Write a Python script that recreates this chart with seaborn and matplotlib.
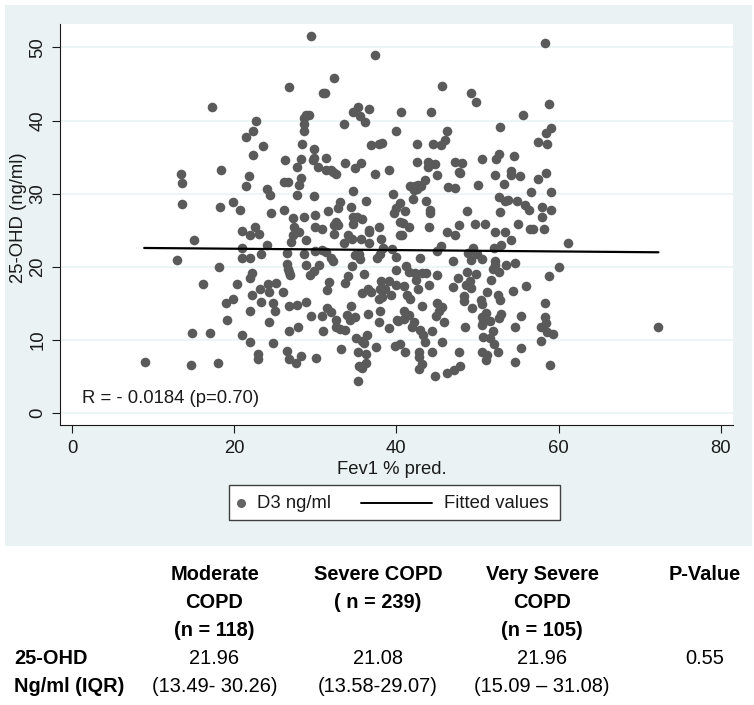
import matplotlib
matplotlib.use("Agg")
import matplotlib.pyplot as plt
from matplotlib.patches import Rectangle
from matplotlib.lines import Line2D
import numpy as np
import pandas as pd
import seaborn as sns

# values
fev1 = [
    29.5, 37.4, 32.3, 26.8, 30.9, 31.2, 17.3, 35.3, 36.6, 34.6, 35.5, 36.1, 33.5, 28.8, 29.2, 28.6, 28.6, 28.6,
    22.7, 22.3, 21.4, 23.6, 22.3, 28.3, 29.8, 39.9, 40.6, 36.9, 37.8, 38.2, 26.3, 28.2, 29.8, 29.7, 31.3, 27.7,
    30.3, 31.3, 31.9, 32.2, 32.6, 33.6, 34.9, 35.6, 37.4, 39.1, 13.4, 13.6, 13.6, 18.4, 21.8, 21.5, 28.2, 28.0,
    26.1, 26.6, 24.0, 24.4, 27.8, 29.8, 34.6, 39.6, 36.3, 19.8, 18.2, 20.7, 24.5, 26.2, 33.0, 32.8, 34.4, 31.6,
    30.0, 28.6, 27.3, 34.7, 35.1, 35.8, 39.7, 40.0, 40.4, 40.5, 37.9, 36.6, 32.6, 32.3, 32.8, 34.6, 29.9, 30.8,
    27.4, 22.6, 21.0,
    15.1, 12.9, 18.1, 16.2, 21.9, 23.1, 24.0, 20.9, 20.9, 22.0, 23.3, 27.0, 27.3, 28.0, 28.9, 26.5, 28.6, 30.0,
    30.8, 31.3, 31.9, 32.2, 26.5, 26.6, 26.8, 26.9, 28.9, 30.4, 29.8, 29.4, 22.2, 21.9, 20.3, 24.2, 25.1, 24.3,
    23.2, 22.2, 26.0, 19.9, 19.0, 23.3, 24.8, 25.0, 22.0, 26.8, 27.7, 28.9, 19.1, 24.3, 29.5, 30.8, 31.5, 31.9,
    26.7, 27.9, 30.9, 32.6, 32.6, 33.0, 33.6, 14.8, 17.0, 20.9, 21.9, 24.8, 9.0, 14.7, 18.0, 22.9, 22.9, 26.5,
    26.8, 27.6, 28.2, 30.1, 33.2, 35.0, 35.7, 36.4, 36.0, 37.5, 35.3, 36.2, 35.4, 35.7, 36.3, 35.3, 39.8, 40.4,
    34.4, 33.9, 34.3, 34.9, 36.5, 37.9, 39.1, 38.0, 40.1, 35.7, 36.5, 36.9, 38.0, 37.8, 38.2, 38.1, 39.1, 38.6,
    39.3, 40.0, 31.4, 31.7, 33.7, 34.0, 36.0, 34.5, 34.9, 35.4, 35.5, 37.6, 38.0, 38.3, 39.4, 39.9, 40.0, 33.5,
    34.5, 35.6, 36.6, 34.0, 36.6, 38.1, 32.3, 40.4,
    58.3, 45.6, 49.2, 49.8, 58.8, 44.3, 55.6, 52.8, 59.1, 58.5, 46.2, 46.0, 45.5, 44.5, 42.5, 57.5, 58.6, 42.5,
    43.9, 44.1, 43.9, 44.7, 45.0, 47.2, 48.1, 47.7, 47.9, 50.6, 52.7, 52.3, 54.5, 52.2, 54.1, 54.1, 55.2, 53.3,
    50.1, 46.3, 47.2, 43.5, 41.7, 42.3, 42.6, 43.0, 42.2, 42.5, 42.0, 43.7, 41.1, 44.1, 44.1, 48.7, 57.4, 58.5,
    59.1, 56.6, 52.7, 53.4, 53.7, 54.9, 55.8, 56.3, 52.8, 57.9, 59.1, 58.0, 40.8, 41.6, 44.0, 47.7, 49.7, 50.9,
    55.0, 52.2, 53.4, 56.5, 56.9, 58.2,
    61.2, 60.1, 58.8, 40.7, 46.2, 47.2, 54.1, 52.9, 52.0, 45.5, 45.0, 49.4, 48.8, 49.9, 42.9, 47.0, 49.2, 50.6,
    52.2, 52.2, 51.9, 52.7, 53.5, 54.6, 41.2, 41.5, 42.3, 43.1, 43.7, 42.4, 42.7, 45.0, 44.0, 48.7, 49.8, 47.6,
    47.0, 49.1, 48.6, 49.2, 51.7, 56.0, 54.4, 51.2, 52.5, 52.8, 40.9, 41.3, 41.7, 43.1, 45.0, 45.6, 45.2, 44.9,
    45.9, 48.3, 48.3, 49.3, 50.4, 50.6, 51.1, 50.5, 50.7, 51.5, 50.5, 52.9, 52.6, 55.3, 48.4, 54.6, 58.3, 58.3,
    58.4, 57.8, 58.6, 59.3, 57.8, 55.4, 54.6, 58.9, 72.2, 51.9, 50.7, 51.5, 52.0, 52.5, 50.5, 51.2, 51.0, 47.7,
    45.6, 44.4, 44.4, 42.9, 43.3, 43.5, 40.9, 41.5, 40.9, 40.2, 42.2, 41.9, 41.0, 42.8, 42.8, 43.2, 42.8, 44.7,
    46.2, 47.1, 47.8,
]
ohd = [
    51.6, 48.9, 45.8, 44.6, 43.8, 43.8, 41.9, 41.9, 41.6, 41.1, 40.6, 39.8, 39.5, 40.8, 40.8, 40.3, 39.5, 38.5,
    39.9, 38.5, 37.7, 36.5, 35.3, 36.8, 36.1, 38.6, 41.2, 36.6, 36.8, 36.9, 34.6, 34.8, 34.9, 34.6, 34.9, 33.7,
    33.6, 33.2, 33.3, 33.0, 32.7, 34.2, 33.5, 34.2, 32.7, 33.2, 32.7, 31.5, 28.6, 33.2, 32.4, 31.1, 32.1, 31.2,
    31.6, 31.6, 30.6, 29.8, 29.8, 29.7, 30.3, 30.0, 29.0, 28.9, 28.2, 27.7, 27.3, 27.8, 28.8, 28.1, 28.2, 27.6,
    27.1, 26.8, 26.7, 26.8, 26.8, 26.6, 27.4, 28.0, 28.7, 26.1, 25.5, 25.0, 26.1, 25.7, 25.7, 25.8, 25.4, 25.2,
    25.4, 25.4, 24.9,
    23.6, 20.9, 19.9, 17.7, 24.3, 24.5, 23.0, 22.5, 21.2, 21.2, 21.7, 23.4, 24.3, 24.8, 23.7, 21.9, 21.7, 22.2,
    22.3, 22.0, 21.2, 20.8, 20.4, 19.7, 19.3, 18.9, 20.2, 20.3, 19.4, 18.9, 19.1, 18.4, 17.6, 17.6, 17.8, 16.6,
    16.9, 16.1, 16.5, 15.6, 15.0, 15.2, 15.0, 14.0, 14.0, 14.7, 14.8, 15.2, 12.7, 12.4, 13.2, 13.2, 14.4, 13.8,
    11.2, 11.7, 11.2, 12.7, 11.8, 11.5, 11.3, 10.9, 10.9, 10.7, 9.7, 9.6, 7.0, 6.6, 6.9, 8.1, 7.4, 8.5,
    7.4, 6.8, 7.8, 7.5, 8.7, 10.3, 9.8, 10.6, 9.6, 9.0, 8.3, 8.1, 6.4, 6.1, 6.8, 4.4, 9.2, 9.4,
    14.7, 13.4, 12.7, 13.1, 13.6, 12.5, 11.6, 14.0, 12.7, 16.4, 17.0, 16.6, 17.0, 15.6, 15.9, 18.1, 18.0, 17.0,
    16.2, 17.5, 16.8, 17.9, 17.8, 18.7, 19.0, 20.1, 21.6, 21.8, 21.1, 21.2, 21.8, 22.6, 22.4, 21.3, 19.6, 23.3,
    23.8, 23.8, 23.2, 24.4, 24.8, 23.8, 24.5, 24.3,
    50.6, 44.7, 43.8, 42.5, 42.3, 41.1, 40.7, 39.1, 39.0, 38.3, 38.5, 37.4, 36.6, 36.8, 36.8, 37.1, 36.8, 34.3,
    34.3, 34.0, 33.7, 34.0, 32.6, 34.3, 34.2, 32.9, 32.8, 34.7, 35.4, 34.7, 35.1, 32.5, 33.1, 32.5, 32.4, 31.3,
    31.2, 30.9, 30.8, 31.9, 31.1, 31.1, 31.2, 31.1, 30.5, 30.7, 29.2, 29.0, 27.6, 27.7, 27.3, 27.6, 32.0, 32.8,
    30.2, 30.2, 29.5, 29.0, 29.1, 29.0, 28.4, 27.8, 27.5, 28.2, 27.7, 26.8, 26.0, 25.4, 25.4, 25.7, 25.9, 25.8,
    25.8, 24.7, 24.7, 25.1, 25.2, 25.1,
    23.3, 19.9, 18.8, 24.4, 24.7, 24.4, 23.7, 23.0, 22.6, 22.8, 22.2, 22.5, 21.9, 21.8, 21.2, 20.8, 20.9, 21.0,
    20.8, 20.2, 19.7, 19.3, 20.2, 20.5, 20.1, 19.3, 19.2, 19.2, 19.2, 18.2, 16.9, 18.9, 17.5, 19.3, 19.0, 18.5,
    17.3, 18.1, 17.5, 17.1, 18.2, 17.4, 16.7, 16.5, 16.2, 15.4, 17.4, 16.1, 15.6, 14.6, 15.0, 14.5, 14.0, 13.3,
    12.4, 16.0, 15.3, 14.3, 15.4, 14.9, 13.7, 13.1, 12.4, 12.6, 12.1, 13.5, 13.0, 13.2, 11.7, 11.7, 15.1, 13.1,
    12.3, 11.8, 11.1, 10.8, 9.8, 8.9, 7.0, 6.6, 11.7, 11.2, 10.4, 10.3, 9.4, 8.3, 8.4, 7.9, 7.3, 8.4,
    9.7, 8.3, 11.2, 11.3, 10.6, 9.7, 14.0, 13.4, 12.9, 12.6, 12.4, 11.8, 8.4, 8.3, 7.7, 6.7, 6.0, 5.0,
    5.5, 5.9, 6.4,
]
fit_x = [8.9, 72.3]
fit_y = [22.57, 21.98]

x_ticks = [0, 20, 40, 60, 80]
y_ticks = [0, 10, 20, 30, 40, 50]

col_heads = [["Moderate", "COPD", "(n = 118)"], ["Severe COPD", "( n = 239)"], ["Very Severe", "COPD", "(n = 105)"], ["P-Value"]]
medians = ["21.96", "21.08", "21.96", "0.55"]
iqrs = ["(13.49- 30.26)", "(13.58-29.07)", "(15.09 \u2013 31.08)", ""]
row_labels = ["25-OHD", "Ng/ml (IQR)"]

sns.set_theme(style="white")
plt.rcParams["font.family"] = ["Liberation Sans", "DejaVu Sans"]

W, H = 754, 705
panel = "#eaf2f3"
dark = "#1a1a1a"
dot = "#5a5a5a"
chart_fs = 13.3
table_fs = 14.4

n = min(len(fev1), len(ohd))
df = pd.DataFrame({"fev1": fev1[:n], "ohd": ohd[:n]})
fit = pd.DataFrame({"x": fit_x, "y": fit_y})

fig = plt.figure(figsize=(W / 100, H / 100), dpi=100, facecolor="white")
fig.patches.append(Rectangle((5 / W, 1 - 546 / H), 747 / W, 541 / H, transform=fig.transFigure,
                             facecolor=panel, edgecolor="none", zorder=-5))

ax = fig.add_axes([60 / W, 1 - 425 / H, 673 / W, 401 / H])
sns.scatterplot(data=df, x="fev1", y="ohd", color=dot, s=48, linewidth=0, ax=ax, zorder=3, clip_on=False)
sns.lineplot(data=fit, x="x", y="y", color="black", linewidth=1.6, ax=ax, zorder=4)

ax.set_xlim(-1.48, 81.5)
ax.set_ylim(-1.64, 53.2)
ax.set_xticks(x_ticks)
ax.set_yticks(y_ticks)
ax.grid(axis="y", color=panel, linewidth=1.2)
ax.set_axisbelow(True)
ax.tick_params(axis="both", length=5.8, width=0.8, color=dark, labelsize=chart_fs, labelcolor=dark, pad=4, left=True, bottom=True)
ax.tick_params(axis="x", pad=5)
plt.setp(ax.get_yticklabels(), rotation=90, va="center")
for name in ["top", "right"]:
    ax.spines[name].set_visible(False)
for name in ["left", "bottom"]:
    ax.spines[name].set_color(dark)
    ax.spines[name].set_linewidth(0.8)
ax.set_xlabel("Fev1 % pred.", fontsize=chart_fs, color=dark, labelpad=3, x=0.493)
ax.set_ylabel("25-OHD (ng/ml)", fontsize=chart_fs, color=dark, labelpad=2, y=0.516)
ax.text(1.2, 2.0, "R = - 0.0184 (p=0.70)", fontsize=chart_fs, color=dark, va="center")

# legend box drawn by hand, the marker sits apart from the line sample
fig.patches.append(Rectangle((229 / W, 1 - 520 / H), 331 / W, 35 / H, transform=fig.transFigure,
                             facecolor="white", edgecolor="#404040", linewidth=1, zorder=2))
fig.add_artist(Line2D([241 / W], [1 - 503 / H], marker="o", linestyle="none", color="#636363", markersize=6.5,
                      markeredgewidth=0, transform=fig.transFigure, zorder=3))
fig.add_artist(Line2D([361 / W, 432 / W], [1 - 503 / H, 1 - 503 / H], color="black", linewidth=1.4,
                      transform=fig.transFigure, zorder=3))
fig.text(257 / W, 1 - 503.5 / H, "D3 ng/ml", fontsize=chart_fs, color=dark, va="center")
fig.text(444 / W, 1 - 503.5 / H, "Fitted values", fontsize=chart_fs, color=dark, va="center")

# table under the chart
col_x = [214.5, 378, 542, 705]
row_y = [575, 602.5, 630, 658, 686]
for cx, head in zip(col_x, col_heads):
    for ry, line in zip(row_y, head):
        fig.text(cx / W, 1 - ry / H, line, ha="center", va="center", fontsize=table_fs, fontweight="bold", color="black")
for cx, m, q in zip(col_x, medians, iqrs):
    fig.text(cx / W, 1 - row_y[3] / H, m, ha="center", va="center", fontsize=table_fs, color="black")
    fig.text(cx / W, 1 - row_y[4] / H, q, ha="center", va="center", fontsize=table_fs, color="black")
for ry, lab in zip(row_y[3:], row_labels):
    fig.text(14 / W, 1 - ry / H, lab, ha="left", va="center", fontsize=table_fs, fontweight="bold", color="black")

fig.savefig("out.png", dpi=100, facecolor="white")
